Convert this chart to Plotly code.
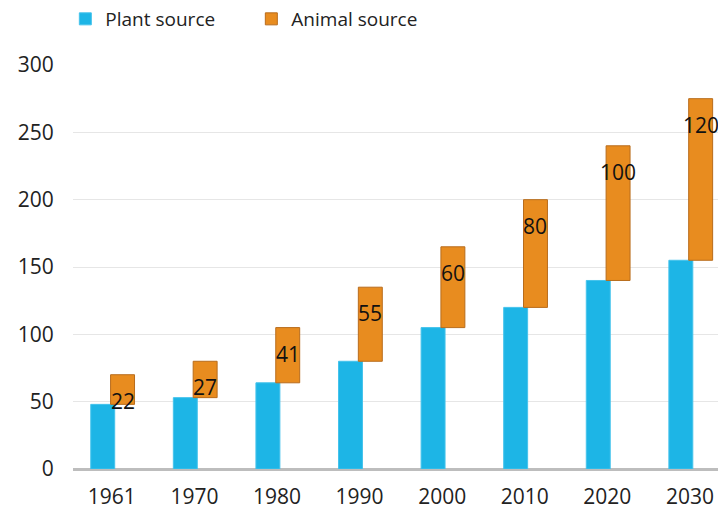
import plotly.graph_objects as go

years = ["1961", "1970", "1980", "1990", "2000", "2010", "2020", "2030"]
plant = [48, 53, 64, 80, 105, 120, 140, 155]
animal = [22, 27, 41, 55, 60, 80, 100, 120]
y_ticks = [0, 50, 100, 150, 200, 250, 300]

idx = list(range(len(years)))
plant_x = [i - 0.11 for i in idx]
animal_x = [i + 0.13 for i in idx]
tops = [p + a for p, a in zip(plant, animal)]

FONT = "Open Sans"
fig = go.Figure()
fig.add_trace(go.Bar(
    x=plant_x, y=plant, width=0.29, name="Plant source",
    marker=dict(color="#1db5e6", line=dict(color="#45c3ec", width=1)),
))
fig.add_trace(go.Bar(
    x=animal_x, y=animal, base=plant, width=0.29, name="Animal source",
    marker=dict(color="#e88c1f", line=dict(color="#b86c1c", width=1)),
))
for xi, t, a in zip(animal_x, tops, animal):
    fig.add_annotation(x=xi, y=t, text=str(a), showarrow=False, yshift=-26,
                       font=dict(size=21, color="#111111", family=FONT))

fig.update_layout(
    width=718, height=512,
    margin=dict(l=73, r=0, t=65, b=43),
    paper_bgcolor="white", plot_bgcolor="white",
    barmode="overlay",
    font=dict(family=FONT, size=21, color="#222222"),
    showlegend=True,
    legend=dict(orientation="h", x=0.091, xref="container", xanchor="left",
                y=1, yanchor="top", yref="container",
                font=dict(size=19, color="#222222"),
                entrywidth=141, entrywidthmode="pixels", bgcolor="rgba(0,0,0,0)"),
    xaxis=dict(range=[-0.47, 7.34], tickmode="array", tickvals=idx, ticktext=years,
               showgrid=False, zeroline=False, showline=False,
               ticks="outside", ticklen=9, tickcolor="rgba(0,0,0,0)",
               tickfont=dict(size=21, color="#222222")),
    yaxis=dict(range=[0, 300], tickmode="array", tickvals=y_ticks,
               showgrid=True, gridcolor="#e6e6e6", gridwidth=1,
               zeroline=True, zerolinecolor="#bdbdbd", zerolinewidth=3,
               ticks="outside", ticklen=14, tickcolor="rgba(0,0,0,0)",
               tickfont=dict(size=21, color="#222222")),
)
fig.write_html("out.html")
